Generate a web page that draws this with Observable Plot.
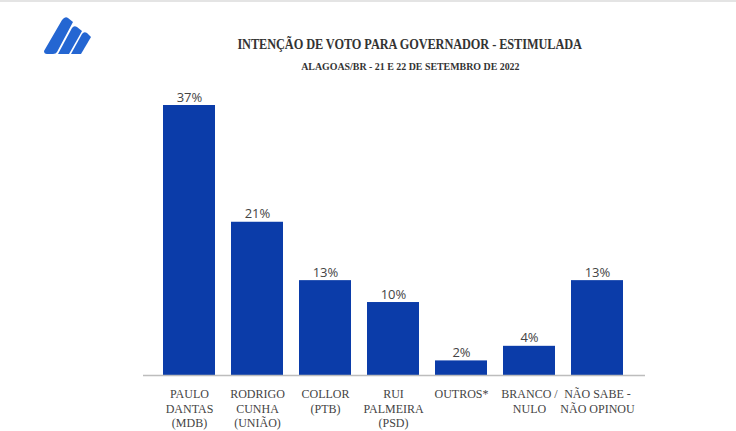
<!DOCTYPE html>
<html>
<head>
<meta charset="utf-8">
<script src="https://cdn.jsdelivr.net/npm/d3@7"></script>
<script src="https://cdn.jsdelivr.net/npm/@observablehq/plot@0.6"></script>
<style>
  html, body { margin: 0; padding: 0; background: #fff; }
  #wrap { position: relative; width: 736px; height: 431px; overflow: hidden; background: #fff; border-top: 2px solid #e4e4e4; box-sizing: border-box; }
  #chart { position: absolute; left: 0; top: -2px; }
  .title { position: absolute; left: 0; width: 736px; padding-left: 84px; box-sizing: border-box; text-align: center; font-family: "Liberation Serif", "DejaVu Serif", serif; font-weight: bold; color: #333; }
  .title span { display: inline-block; white-space: nowrap; }
  #t1 { top: 34px; font-size: 14.5px; }
  #t1 span { transform: scaleX(0.85); letter-spacing: -0.1px; }
  #t2 { top: 58px; font-size: 11px; }
  #t2 span { transform: scaleX(0.9); }
  #logo { position: absolute; left: 44px; top: 14px; }
</style>
</head>
<body>
<div id="wrap">
  <svg id="logo" width="48" height="40" viewBox="0 0 48 40">
    <path d="M0,35 L18,4 Q21,0 24,2 L29,6 L13,36 Q12,38 9,38 L3,38 Q0,38 0,35 Z" fill="#2466d2"/>
    <path d="M14,38 L28,12 Q30,9 33,11 L38,15 L25,38 Z" fill="#2466d2"/>
    <path d="M27,38 L38,18 Q40,15 43,17 L47,21 L37,38 Z" fill="#2466d2"/>
  </svg>
  <div class="title" id="t1"><span>INTENÇÃO DE VOTO PARA GOVERNADOR - ESTIMULADA</span></div>
  <div class="title" id="t2"><span>ALAGOAS/BR - 21 E 22 DE SETEMBRO DE 2022</span></div>
  <div id="chart"></div>
</div>
<script>
const categories = ["PAULO\nDANTAS\n(MDB)", "RODRIGO\nCUNHA\n(UNIÃO)", "COLLOR\n(PTB)", "RUI\nPALMEIRA\n(PSD)", "OUTROS*", "BRANCO /\nNULO", "NÃO SABE -\nNÃO OPINOU"];
const values = [37, 21, 13, 10, 2, 4, 13];
const valueLabels = ["37%", "21%", "13%", "10%", "2%", "4%", "13%"];

const data = categories.map((c, i) => ({cat: c, v: values[i], lab: valueLabels[i]}));

const chart = Plot.plot({
  width: 736,
  height: 431,
  marginLeft: 143,
  marginRight: 91,
  marginTop: 90,
  marginBottom: 56,
  style: { background: "transparent", overflow: "visible" },
  x: { domain: categories, range: [152.6, 634.4], paddingInner: 0.23, paddingOuter: 0.115, label: null },
  y: { domain: [0, 37], range: [375, 105], axis: null },
  marks: [
    Plot.barY(data, { x: "cat", y: "v", fill: "#0b3ca9" }),
    Plot.ruleY([0], { stroke: "#bdbdbd", strokeWidth: 1.5 }),
    Plot.text(data, { x: "cat", y: "v", text: "lab", dy: -8, fontSize: 13, fill: "#444", fontFamily: "Open Sans, Liberation Sans, sans-serif" }),
    Plot.axisX({ tickSize: 0, tickPadding: 13, fontSize: 12, lineHeight: 1.17, fill: "#444", fontFamily: "Liberation Serif, DejaVu Serif, serif", label: null })
  ]
});
document.getElementById("chart").appendChild(chart);
</script>
</body>
</html>
